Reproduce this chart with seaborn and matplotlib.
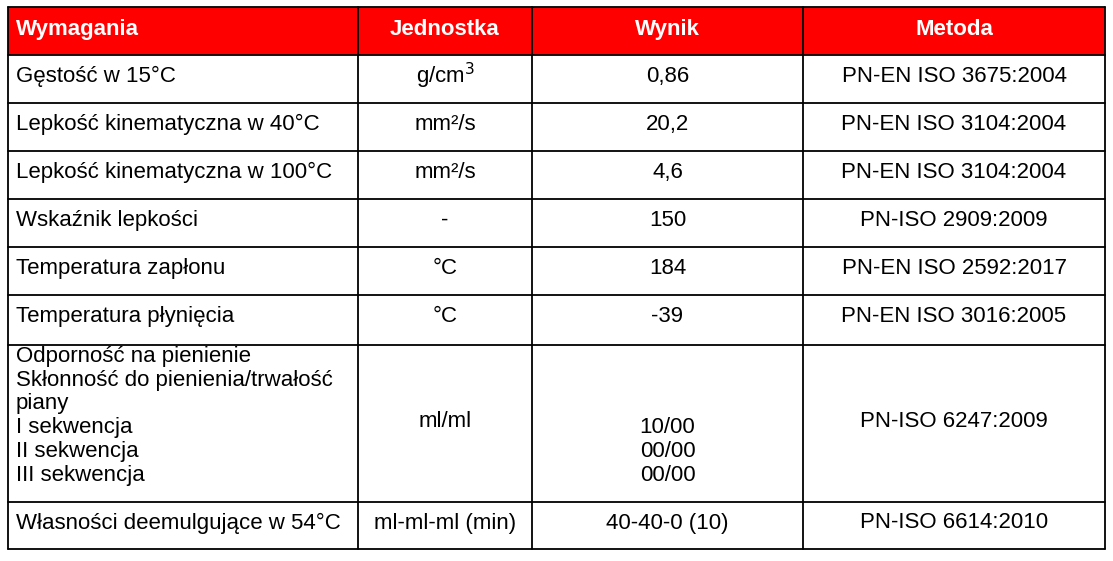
import matplotlib.pyplot as plt
import seaborn as sns

sns.set_theme(style="white")
plt.rcParams["font.family"] = ["Liberation Sans", "DejaVu Sans"]
plt.rcParams["text.color"] = "black"

RED = "#ff0000"

headers = ["Wymagania", "Jednostka", "Wynik", "Metoda"]
requirements = [
    "Gęstość w 15°C",
    "Lepkość kinematyczna w 40°C",
    "Lepkość kinematyczna w 100°C",
    "Wskaźnik lepkości",
    "Temperatura zapłonu",
    "Temperatura płynięcia",
    "Odporność na pienienie\nSkłonność do pienienia/trwałość\npiany\nI sekwencja\nII sekwencja\nIII sekwencja",
    "Własności deemulgujące w 54°C",
]
units = ["g/cm$^3$", "mm²/s", "mm²/s", "-", "°C", "°C", "ml/ml", "ml-ml-ml (min)"]
results = ["0,86", "20,2", "4,6", "150", "184", "-39", "\n\n\n10/00\n00/00\n00/00", "40-40-0 (10)"]
methods = [
    "PN-EN ISO 3675:2004",
    "PN-EN ISO 3104:2004",
    "PN-EN ISO 3104:2004",
    "PN-ISO 2909:2009",
    "PN-EN ISO 2592:2017",
    "PN-EN ISO 3016:2005",
    "PN-ISO 6247:2009",
    "PN-ISO 6614:2010",
]

col_edges = [8, 358, 532, 803, 1105]
row_edges = [7, 55, 103, 151, 199, 247, 295, 345, 502, 549]

fig = plt.figure(figsize=(11.13, 5.61), dpi=100)
ax = fig.add_axes([0, 0, 1, 1])
ax.set_xlim(0, 1113)
ax.set_ylim(561, 0)
ax.axis("off")

ax.fill_between([col_edges[0], col_edges[-1]], row_edges[0], row_edges[1], color=RED, lw=0)
for y in row_edges:
    ax.plot([col_edges[0], col_edges[-1]], [y, y], color="black", lw=1.3)
for x in col_edges:
    ax.plot([x, x], [row_edges[0], row_edges[-1]], color="black", lw=1.3)

centers = [(a + b) / 2 for a, b in zip(col_edges[:-1], col_edges[1:])]
hfs = 16
ax.text(16, 29, headers[0], ha="left", va="center", color="white", fontsize=hfs, fontweight="bold")
for c, h in zip(centers[1:], headers[1:]):
    ax.text(c, 29, h, ha="center", va="center", color="white", fontsize=hfs, fontweight="bold")

fs = 16
ls = 1.17
for i in range(len(requirements)):
    top, bot = row_edges[i + 1], row_edges[i + 2]
    if "\n" in requirements[i]:
        ax.text(16, top + 1, requirements[i], ha="left", va="top", fontsize=fs, linespacing=ls)
        ax.text(centers[1], (top + bot) / 2 - 2, units[i], ha="center", va="center", fontsize=fs)
        ax.text(centers[2], top + 1, results[i], ha="center", va="top", fontsize=fs, linespacing=ls)
        ax.text(centers[3], (top + bot) / 2 - 2, methods[i], ha="center", va="center", fontsize=fs)
    else:
        y = top + 21
        ax.text(16, y, requirements[i], ha="left", va="center", fontsize=fs)
        ax.text(centers[1], y, units[i], ha="center", va="center", fontsize=fs)
        ax.text(centers[2], y, results[i], ha="center", va="center", fontsize=fs)
        ax.text(centers[3], y, methods[i], ha="center", va="center", fontsize=fs)

fig.savefig("out.png", dpi=100, facecolor="white")
